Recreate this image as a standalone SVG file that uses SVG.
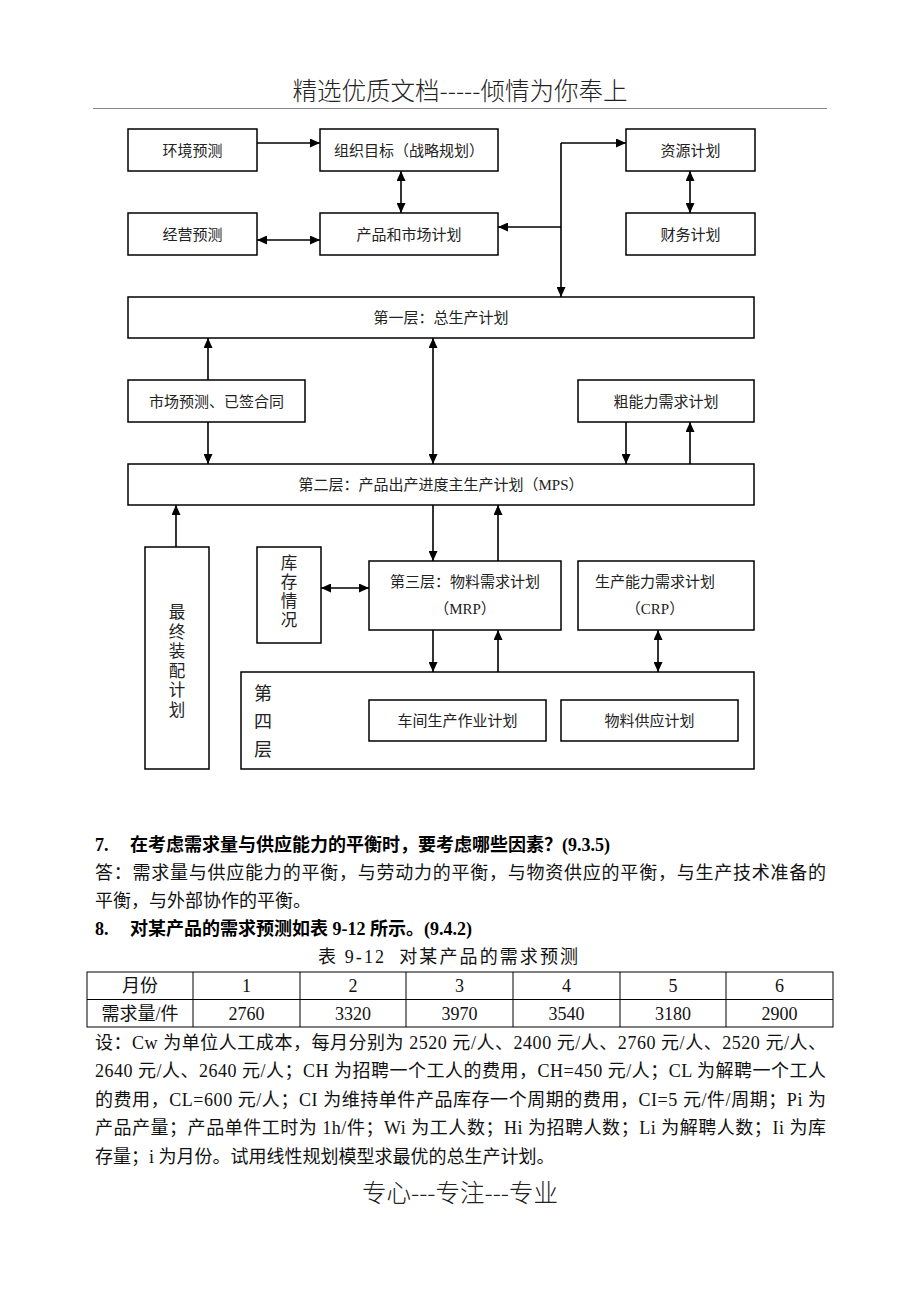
<svg xmlns="http://www.w3.org/2000/svg" width="920" height="1300" viewBox="0 0 920 1300">
<style>
.bx{fill:#fff;stroke:#000;stroke-width:1.5}
.t{font-family:"Liberation Serif","Noto Sans CJK SC",serif;font-size:15px;fill:#222;text-anchor:middle}
.v{font-family:"Liberation Serif","Noto Sans CJK SC",serif;font-size:18px;fill:#222;text-anchor:middle}
.vs{font-family:"Liberation Serif","Noto Sans CJK SC",serif;font-size:16.5px;fill:#222;text-anchor:middle}
.c{stroke:#000;stroke-width:1.6;fill:none}
.p{font-family:"Liberation Serif","Noto Sans CJK SC",serif;font-size:18px;fill:#111}
.b{font-family:"Liberation Serif","Noto Sans CJK SC",serif;font-size:18px;fill:#000;font-weight:bold}
.h{font-family:"Noto Sans CJK SC",sans-serif;font-size:24.5px;fill:#222;text-anchor:middle;font-weight:300}
.tc{font-family:"Liberation Serif","Noto Sans CJK SC",serif;font-size:18px;fill:#111;text-anchor:middle}
.tl{stroke:#000;stroke-width:1;fill:none}
</style>
<defs>
<marker id="ar" viewBox="0 0 10 9" refX="10" refY="4.5" markerWidth="10" markerHeight="9" markerUnits="userSpaceOnUse" orient="auto-start-reverse">
<path d="M0,0 L10,4.5 L0,9 z" fill="#000"/>
</marker>
</defs>
<rect width="920" height="1300" fill="#fff"/>
<g id="header">
<text class="h" x="460" y="100">精选优质文档-----倾情为你奉上</text>
<line x1="93" y1="108.5" x2="827" y2="108.5" stroke="#888" stroke-width="1"/>
</g>
<g id="n-env"><rect class="bx" x="128" y="129" width="129" height="42"/><text class="t" x="192.5" y="156">环境预测</text></g>
<g id="n-org"><rect class="bx" x="320" y="129" width="178" height="42"/><text class="t" x="409" y="156">组织目标（战略规划）</text></g>
<g id="n-bus"><rect class="bx" x="128" y="213" width="129" height="42"/><text class="t" x="192.5" y="240">经营预测</text></g>
<g id="n-prod"><rect class="bx" x="320" y="213" width="178" height="42"/><text class="t" x="409" y="240">产品和市场计划</text></g>
<g id="n-res"><rect class="bx" x="626" y="129" width="129" height="42"/><text class="t" x="690.5" y="156">资源计划</text></g>
<g id="n-fin"><rect class="bx" x="626" y="213" width="129" height="42"/><text class="t" x="690.5" y="240">财务计划</text></g>
<g id="n-l1"><rect class="bx" x="128" y="297" width="626" height="41"/><text class="t" x="441" y="323">第一层：总生产计划</text></g>
<g id="n-mkt"><rect class="bx" x="128" y="380" width="177" height="42"/><text class="t" x="216.5" y="407">市场预测、已签合同</text></g>
<g id="n-rough"><rect class="bx" x="578" y="380" width="176" height="42"/><text class="t" x="666" y="407">粗能力需求计划</text></g>
<g id="n-l2"><rect class="bx" x="128" y="464" width="626" height="41"/><text class="t" x="441" y="490">第二层：产品出产进度主生产计划（MPS）</text></g>
<g id="n-fas"><rect class="bx" x="145" y="547" width="64" height="222"/>
<text class="vs" x="177" y="618">最</text><text class="vs" x="177" y="637.5">终</text><text class="vs" x="177" y="657">装</text><text class="vs" x="177" y="676.5">配</text><text class="vs" x="177" y="696">计</text><text class="vs" x="177" y="715.5">划</text></g>
<g id="n-inv"><rect class="bx" x="257" y="547" width="64" height="96"/>
<text class="vs" x="289" y="569">库</text><text class="vs" x="289" y="588">存</text><text class="vs" x="289" y="607">情</text><text class="vs" x="289" y="626">况</text></g>
<g id="n-mrp"><rect class="bx" x="369" y="561" width="192" height="69"/><text class="t" x="465" y="587">第三层：物料需求计划</text><text class="t" x="465" y="614">（MRP）</text></g>
<g id="n-crp"><rect class="bx" x="578" y="561" width="176" height="69"/><text class="t" x="655" y="587">生产能力需求计划</text><text class="t" x="655" y="614">（CRP）</text></g>
<g id="n-l4"><rect class="bx" x="241" y="672" width="513" height="97"/>
<text class="v" x="263" y="700">第</text><text class="v" x="263" y="728">四</text><text class="v" x="263" y="756">层</text></g>
<g id="n-shop"><rect class="bx" x="369" y="700" width="177" height="41"/><text class="t" x="457.5" y="726">车间生产作业计划</text></g>
<g id="n-supply"><rect class="bx" x="561" y="700" width="177" height="41"/><text class="t" x="649.5" y="726">物料供应计划</text></g>
<g id="connectors">
<path class="c" d="M257,143 H320" marker-end="url(#ar)"/>
<path class="c" d="M401,171 V213" marker-start="url(#ar)" marker-end="url(#ar)"/>
<path class="c" d="M257,240 H320" marker-start="url(#ar)" marker-end="url(#ar)"/>
<path class="c" d="M561,143 H626" marker-end="url(#ar)"/>
<path class="c" d="M561,143 V297" marker-end="url(#ar)"/>
<path class="c" d="M561,227 H498" marker-end="url(#ar)"/>
<path class="c" d="M690,171 V213" marker-start="url(#ar)" marker-end="url(#ar)"/>
<path class="c" d="M208,380 V338" marker-end="url(#ar)"/>
<path class="c" d="M208,422 V464" marker-end="url(#ar)"/>
<path class="c" d="M433,338 V464" marker-start="url(#ar)" marker-end="url(#ar)"/>
<path class="c" d="M626,422 V464" marker-end="url(#ar)"/>
<path class="c" d="M690,464 V422" marker-end="url(#ar)"/>
<path class="c" d="M176,547 V505" marker-end="url(#ar)"/>
<path class="c" d="M433,505 V561" marker-end="url(#ar)"/>
<path class="c" d="M498,561 V505" marker-end="url(#ar)"/>
<path class="c" d="M321,588 H369" marker-start="url(#ar)" marker-end="url(#ar)"/>
<path class="c" d="M433,630 V672" marker-end="url(#ar)"/>
<path class="c" d="M498,672 V630" marker-end="url(#ar)"/>
<path class="c" d="M658,630 V672" marker-start="url(#ar)" marker-end="url(#ar)"/>
</g>
<g id="body">
<text class="b" x="95" y="851">7.</text>
<text class="b" x="130" y="851">在考虑需求量与供应能力的平衡时，要考虑哪些因素？(9.3.5)</text>
<text class="p" x="95" y="879" textLength="731" lengthAdjust="spacing">答：需求量与供应能力的平衡，与劳动力的平衡，与物资供应的平衡，与生产技术准备的</text>
<text class="p" x="95" y="907">平衡，与外部协作的平衡。</text>
<text class="b" x="95" y="935">8.</text>
<text class="b" x="130" y="935">对某产品的需求预测如表 9-12 所示。(9.4.2)</text>
<text class="tc" x="448" y="963" textLength="260" lengthAdjust="spacing" xml:space="preserve">表 9-12  对某产品的需求预测</text>
</g>
<g id="table">
<rect class="tl" x="87" y="972" width="746" height="55"/>
<line class="tl" x1="87" y1="999.5" x2="833" y2="999.5"/>
<line class="tl" x1="193" y1="972" x2="193" y2="1027"/>
<line class="tl" x1="300" y1="972" x2="300" y2="1027"/>
<line class="tl" x1="406" y1="972" x2="406" y2="1027"/>
<line class="tl" x1="513" y1="972" x2="513" y2="1027"/>
<line class="tl" x1="620" y1="972" x2="620" y2="1027"/>
<line class="tl" x1="726" y1="972" x2="726" y2="1027"/>
<text class="tc" x="140" y="992">月份</text>
<text class="tc" x="246.5" y="992">1</text>
<text class="tc" x="353" y="992">2</text>
<text class="tc" x="459.5" y="992">3</text>
<text class="tc" x="566.5" y="992">4</text>
<text class="tc" x="673" y="992">5</text>
<text class="tc" x="779.5" y="992">6</text>
<text class="tc" x="140" y="1020">需求量/件</text>
<text class="tc" x="246.5" y="1020">2760</text>
<text class="tc" x="353" y="1020">3320</text>
<text class="tc" x="459.5" y="1020">3970</text>
<text class="tc" x="566.5" y="1020">3540</text>
<text class="tc" x="673" y="1020">3180</text>
<text class="tc" x="779.5" y="1020">2900</text>
</g>
<g id="para">
<text class="p" x="95" y="1049" textLength="731" lengthAdjust="spacing">设：Cw 为单位人工成本，每月分别为 2520 元/人、2400 元/人、2760 元/人、2520 元/人、</text>
<text class="p" x="95" y="1077" textLength="731" lengthAdjust="spacing">2640 元/人、2640 元/人；CH 为招聘一个工人的费用，CH=450 元/人；CL 为解聘一个工人</text>
<text class="p" x="95" y="1106" textLength="731" lengthAdjust="spacing">的费用，CL=600 元/人；CI 为维持单件产品库存一个周期的费用，CI=5 元/件/周期；Pi 为</text>
<text class="p" x="95" y="1134" textLength="731" lengthAdjust="spacing">产品产量；产品单件工时为 1h/件；Wi 为工人数；Hi 为招聘人数；Li 为解聘人数；Ii 为库</text>
<text class="p" x="95" y="1163">存量；i 为月份。试用线性规划模型求最优的总生产计划。</text>
</g>
<g id="footer">
<text class="h" x="460" y="1202">专心---专注---专业</text>
</g>
</svg>
